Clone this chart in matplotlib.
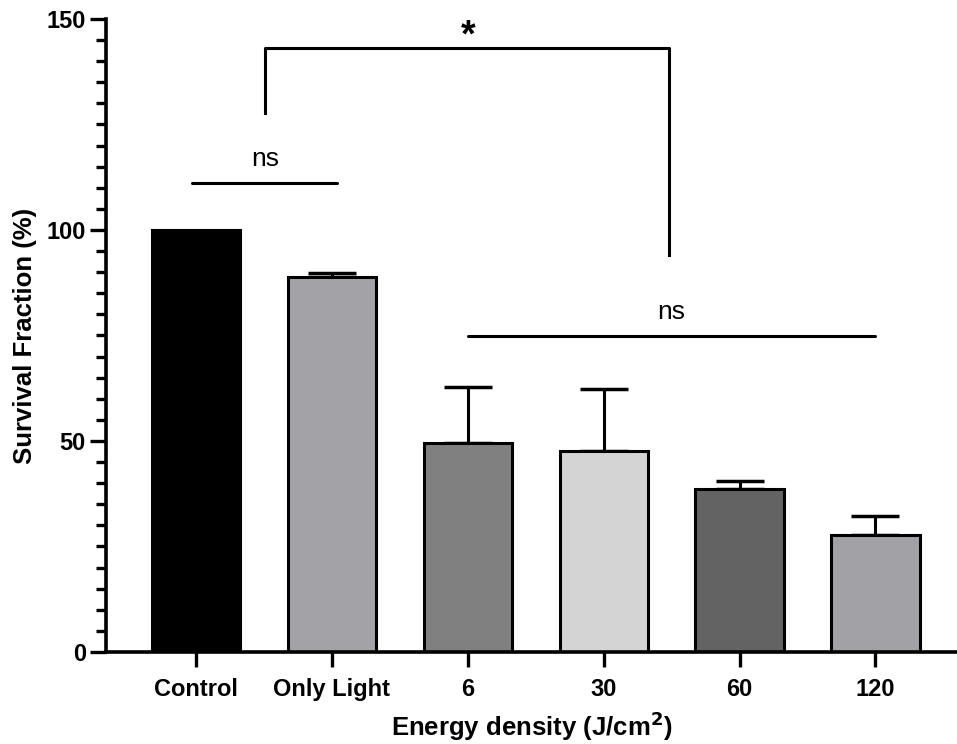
import matplotlib.pyplot as plt
from matplotlib.ticker import MultipleLocator

plt.rcParams['font.family'] = ['Liberation Sans', 'DejaVu Sans']

# 数据
categories = ['Control', 'Only Light', '6', '30', '60', '120']
survival = [100, 88.8, 49.6, 47.6, 38.6, 27.7]
err_up = [0, 1.0, 13.3, 14.7, 1.9, 4.6]
bar_colors = ['#000000', '#a3a2a7', '#808080', '#d4d4d4', '#636363', '#a2a1a6']

# 显著性标记
ns1_span = (-0.03, 1.04, 111.2)
ns2_span = (2.0, 5.0, 74.9)
star_bracket = (0.51, 3.48, 143.2, 127.8, 94.1)

fig = plt.figure(figsize=(9.57, 7.44), dpi=100)
ax = fig.add_axes([0.1108, 0.1237, 0.8892, 0.8508])

x = list(range(len(categories)))
ax.bar(x, survival, width=0.65, color=bar_colors, edgecolor='black',
       linewidth=2.2, zorder=2)
# Control 没有误差线
ax.errorbar(x[1:], survival[1:], yerr=[[0] * (len(err_up) - 1), err_up[1:]], fmt='none',
            ecolor='black', elinewidth=2.2, capsize=17, capthick=2.5, zorder=1)

# ns 线
ax.plot(ns1_span[:2], [ns1_span[2]] * 2, color='black', lw=2.2, solid_capstyle='round')
ax.text(sum(ns1_span[:2]) / 2, ns1_span[2] + 2.8, 'ns', ha='center', va='bottom', fontsize=19)
ax.plot(ns2_span[:2], [ns2_span[2]] * 2, color='black', lw=2.2, solid_capstyle='round')
ax.text(sum(ns2_span[:2]) / 2, ns2_span[2] + 2.8, 'ns', ha='center', va='bottom', fontsize=19)

# * 括号
xl, xr, top, yl, yr = star_bracket
ax.plot([xl, xl, xr, xr], [yl, top, top, yr], color='black', lw=2.2, clip_on=False)
ax.text(2.0, top + 0.3, '*', ha='center', va='baseline', fontsize=27, fontweight='bold')

ax.set_xlim(-0.663, 5.6)
ax.set_ylim(0, 150)
ax.yaxis.set_major_locator(MultipleLocator(50))
ax.yaxis.set_minor_locator(MultipleLocator(5))
ax.set_xticks(x)
ax.set_xticklabels(categories)

for s in ['top', 'right']:
    ax.spines[s].set_visible(False)
for s in ['left', 'bottom']:
    ax.spines[s].set_linewidth(2.6)

ax.tick_params(axis='y', which='major', length=11.5, width=2.4, labelsize=17, pad=3)
ax.tick_params(axis='y', which='minor', length=7, width=2.4)
ax.tick_params(axis='x', length=11, width=2.4, labelsize=17, pad=8)
for lab in ax.get_xticklabels() + ax.get_yticklabels():
    lab.set_fontweight('bold')

ax.set_ylabel('Survival Fraction (%)', fontsize=18.5, fontweight='bold', labelpad=7)
ax.set_xlabel('Energy density (J/cm$^\\mathbf{2}$)', fontsize=18.5, fontweight='bold', labelpad=6)

plt.savefig('out.png', dpi=100)
plt.close()
